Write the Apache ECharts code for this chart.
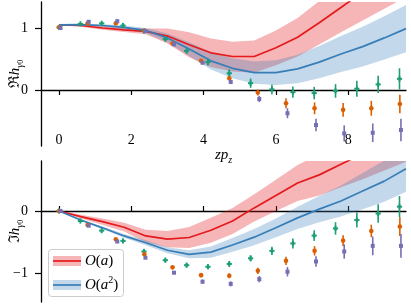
<!DOCTYPE html>
<html>
<head>
<meta charset="utf-8">
<script src="https://cdn.jsdelivr.net/npm/echarts@6/dist/echarts.min.js"></script>
<style>html,body{margin:0;padding:0;background:#fff}#c{width:411px;height:308px}</style>
</head>
<body>
<div id="c"></div>
<script>
// ---- data ----
const xTicks = [0, 2, 4, 6, 8];
const reTicks = [0, 1];
const imTicks = [-1, 0];

const bandX = [0, 0.6, 1.2, 1.8, 2.4, 3.0, 3.6, 4.2, 4.8, 5.4, 6.0, 6.6, 7.2, 7.8, 8.4, 9.0, 9.6];

// Re part : O(a) (red) and O(a^2) (blue) fits with bands
const redRe   = [1.05, 1.04, 1.0, 0.97, 0.945, 0.87, 0.73, 0.60, 0.54, 0.54, 0.68, 0.85, 1.085, 1.33, 1.58, 1.83, 2.08];
const redReLo = [1.05, 1.02, 0.97, 0.935, 0.90, 0.75, 0.53, 0.37, 0.30, 0.28, 0.40, 0.54, 0.735, 0.93, 1.12, 1.31, 1.50];
const redReHi = [1.05, 1.06, 1.03, 1.005, 0.99, 0.99, 0.93, 0.83, 0.78, 0.80, 0.96, 1.16, 1.435, 1.73, 2.04, 2.35, 2.66];
const blueRe   = [1.05, 1.055, 1.04, 1.01, 0.96, 0.84, 0.66, 0.47, 0.35, 0.28, 0.28, 0.34, 0.45, 0.58, 0.70, 0.84, 0.99];
const blueReLo = [1.05, 1.045, 1.02, 0.98, 0.92, 0.77, 0.55, 0.33, 0.19, 0.10, 0.08, 0.11, 0.19, 0.29, 0.38, 0.49, 0.61];
const blueReHi = [1.05, 1.065, 1.06, 1.04, 1.00, 0.91, 0.77, 0.61, 0.51, 0.46, 0.48, 0.57, 0.71, 0.87, 1.02, 1.19, 1.37];

// Im part
const redIm   = [0, -0.09, -0.17, -0.26, -0.40, -0.45, -0.425, -0.31, -0.16, 0.05, 0.25, 0.45, 0.58, 0.75, 0.92, 1.10, 1.28];
const redImLo = [0, -0.12, -0.22, -0.33, -0.50, -0.58, -0.595, -0.51, -0.37, -0.17, 0.0, 0.16, 0.25, 0.38, 0.51, 0.65, 0.79];
const redImHi = [0, -0.06, -0.12, -0.19, -0.30, -0.32, -0.255, -0.11, 0.05, 0.27, 0.50, 0.74, 0.91, 1.12, 1.33, 1.55, 1.77];
const blueIm   = [0, -0.145, -0.27, -0.40, -0.51, -0.63, -0.695, -0.66, -0.545, -0.42, -0.27, -0.11, 0.03, 0.16, 0.32, 0.48, 0.68];
const blueImLo = [0, -0.155, -0.29, -0.43, -0.55, -0.68, -0.76, -0.75, -0.655, -0.55, -0.42, -0.29, -0.18, -0.09, 0.03, 0.15, 0.31];
const blueImHi = [0, -0.135, -0.25, -0.37, -0.47, -0.58, -0.63, -0.57, -0.435, -0.29, -0.12, 0.07, 0.24, 0.41, 0.61, 0.81, 1.05];

// lattice data points
const greenX  = [0, 0.59, 1.18, 1.77, 2.35, 2.94, 3.53, 4.12, 4.71, 5.30, 5.89, 6.47, 7.06, 7.65, 8.24, 8.83, 9.42];
const orangeX = [0, 0.79, 1.57, 2.36, 3.14, 3.93, 4.71, 5.50, 6.28, 7.07, 7.86, 8.64, 9.43];
const purpleX = [0.04, 0.82, 1.61, 2.39, 3.18, 3.97, 4.75, 5.54, 6.32, 7.11, 7.89, 8.68, 9.46];

const greenRe     = [1.01, 1.065, 1.075, 1.04, 0.95, 0.82, 0.63, 0.45, 0.27, 0.11, 0.01, -0.035, -0.05, -0.015, 0.02, 0.09, 0.18];
const greenReErr  = [0.005, 0.01, 0.01, 0.015, 0.02, 0.025, 0.04, 0.055, 0.065, 0.075, 0.08, 0.09, 0.10, 0.11, 0.13, 0.14, 0.17];
const orangeRe    = [1.01, 1.075, 1.075, 0.955, 0.75, 0.47, 0.19, -0.04, -0.215, -0.295, -0.32, -0.295, -0.225];
const orangeReErr = [0.005, 0.01, 0.012, 0.015, 0.02, 0.025, 0.035, 0.05, 0.08, 0.095, 0.11, 0.12, 0.15];
const purpleRe    = [1.0, 1.10, 1.11, 0.95, 0.735, 0.44, 0.13, -0.145, -0.375, -0.565, -0.70, -0.69, -0.645];
const purpleReErr = [0.005, 0.01, 0.012, 0.015, 0.02, 0.025, 0.035, 0.05, 0.08, 0.10, 0.13, 0.15, 0.18];

const greenIm     = [0, -0.16, -0.315, -0.48, -0.65, -0.79, -0.87, -0.895, -0.85, -0.76, -0.64, -0.52, -0.395, -0.28, -0.145, -0.04, 0.07];
const greenImErr  = [0.005, 0.01, 0.012, 0.015, 0.02, 0.025, 0.03, 0.035, 0.045, 0.05, 0.065, 0.08, 0.085, 0.10, 0.12, 0.15, 0.17];
const orangeIm    = [0, -0.225, -0.455, -0.695, -0.905, -1.03, -1.04, -0.96, -0.80, -0.64, -0.475, -0.32, -0.25];
const orangeImErr = [0.005, 0.01, 0.015, 0.02, 0.025, 0.035, 0.04, 0.05, 0.065, 0.075, 0.085, 0.10, 0.15];
const purpleIm    = [0, -0.235, -0.49, -0.75, -0.99, -1.135, -1.17, -1.095, -0.975, -0.81, -0.65, -0.56, -0.56];
const purpleImErr = [0.005, 0.01, 0.015, 0.02, 0.025, 0.035, 0.04, 0.05, 0.075, 0.085, 0.115, 0.15, 0.19];

// ---- styling ----
const SERIF = "'Liberation Serif', 'DejaVu Serif', serif";
const RED = '#e41a1c', BLUE = '#377eb8';
const RED_BAND = 'rgba(228,26,28,0.32)', BLUE_BAND = 'rgba(55,126,184,0.30)';
const GREEN = '#1b9e77', ORANGE = '#d95f02', PURPLE = '#7570b3';

const chart = echarts.init(document.getElementById('c'), null, {renderer: 'canvas'});

function fmt(v) { return v < 0 ? '\u2212' + (-v) : String(v); }

function band(xi, yi, lo, hi, color, z) {
  return {
    type: 'custom', xAxisIndex: xi, yAxisIndex: yi, clip: true, silent: true, z: z,
    data: bandX.map((x, i) => [x, lo[i], hi[i]]),
    encode: {x: 0, y: [1, 2]},
    renderItem: function (params, api) {
      if (params.dataIndex !== 0) return null;
      const pts = [];
      for (let i = 0; i < bandX.length; i++) pts.push(api.coord([bandX[i], hi[i]]));
      for (let i = bandX.length - 1; i >= 0; i--) pts.push(api.coord([bandX[i], lo[i]]));
      return {type: 'polygon', shape: {points: pts}, style: {fill: color}};
    }
  };
}
function line(xi, yi, ys, color, z) {
  return {
    type: 'line', xAxisIndex: xi, yAxisIndex: yi, clip: true, silent: true, z: z,
    showSymbol: false, symbol: 'none',
    data: bandX.map((x, i) => [x, ys[i]]),
    lineStyle: {color: color, width: 1.7}
  };
}
function points(xi, yi, xs, ys, es, color, shape, z) {
  return {
    type: 'custom', xAxisIndex: xi, yAxisIndex: yi, clip: true, silent: true, z: z,
    data: xs.map((x, i) => [x, ys[i], es[i]]),
    encode: {x: 0, y: 1},
    renderItem: function (params, api) {
      const x = api.value(0), y = api.value(1), e = api.value(2);
      const c = api.coord([x, y]);
      const a = api.coord([x, y - e]);
      const b = api.coord([x, y + e]);
      const kids = [{
        type: 'line', shape: {x1: c[0], y1: a[1], x2: c[0], y2: b[1]},
        style: {stroke: color, lineWidth: 1.6}
      }];
      if (shape === 'plus') {
        kids.push({type: 'rect', shape: {x: c[0] - 2.6, y: c[1] - 1, width: 5.2, height: 2}, style: {fill: color}});
        kids.push({type: 'rect', shape: {x: c[0] - 1, y: c[1] - 2.6, width: 2, height: 5.2}, style: {fill: color}});
      } else if (shape === 'circle') {
        kids.push({type: 'circle', shape: {cx: c[0], cy: c[1], r: 2.3}, style: {fill: color}});
      } else {
        kids.push({type: 'rect', shape: {x: c[0] - 2, y: c[1] - 2, width: 4, height: 4}, style: {fill: color}});
      }
      return {type: 'group', children: kids};
    }
  };
}

const nameRich = {
  m: {fontFamily: SERIF, fontSize: 15, color: '#000', lineHeight: 20, verticalAlign: 'middle'},
  i: {fontFamily: SERIF, fontSize: 15, fontStyle: 'italic', color: '#000', lineHeight: 20, verticalAlign: 'middle'},
  s: {fontFamily: SERIF, fontSize: 10, fontStyle: 'italic', color: '#000', lineHeight: 20, verticalAlign: 'bottom'},
  t: {fontFamily: SERIF, fontSize: 8, color: '#000', lineHeight: 19, verticalAlign: 'bottom'}
};

const axLine = {show: true, lineStyle: {color: '#000', width: 1.3}};
const tickStyle = {color: '#000', width: 1.2};

const option = {
  animation: false,
  backgroundColor: '#fff',
  grid: [
    {left: 41, right: 5, top: 2, height: 144, containLabel: false, outerBoundsMode: 'none'},
    {left: 41, right: 5, top: 161, height: 141, containLabel: false, outerBoundsMode: 'none'}
  ],
  xAxis: [
    { // top panel zero line with ticks
      type: 'value', gridIndex: 0, min: -0.5, max: 9.6, position: 'bottom',
      axisLine: Object.assign({onZero: true}, axLine),
      axisTick: {show: true, length: 5, customValues: xTicks, lineStyle: tickStyle},
      axisLabel: {show: false}, splitLine: {show: false}
    },
    { // top panel tick labels + axis name
      type: 'value', gridIndex: 0, min: -0.5, max: 9.6, position: 'bottom', offset: -13,
      axisLine: {show: false, onZero: false}, axisTick: {show: false},
      axisLabel: {show: true, margin: 0, customValues: xTicks, formatter: fmt,
        fontFamily: SERIF, fontSize: 14, color: '#000'},
      splitLine: {show: false},
      name: '{i|zp}{s|z}', nameLocation: 'middle', nameGap: 12, nameMoveOverlap: false,
      nameTextStyle: {rich: nameRich}
    },
    { // bottom panel zero line, ticks pointing up
      type: 'value', gridIndex: 1, min: -0.5, max: 9.6, position: 'top',
      axisLine: Object.assign({onZero: true}, axLine),
      axisTick: {show: true, length: 5, customValues: xTicks, lineStyle: tickStyle},
      axisLabel: {show: false}, splitLine: {show: false}
    }
  ],
  yAxis: [
    {
      type: 'value', gridIndex: 0, min: -0.903, max: 1.419,
      axisLine: Object.assign({onZero: false}, axLine),
      axisTick: {show: true, length: 6, customValues: reTicks, lineStyle: tickStyle},
      axisLabel: {show: true, margin: 13, customValues: reTicks, formatter: fmt,
        fontFamily: SERIF, fontSize: 14, color: '#000'},
      splitLine: {show: false},
      name: '{m|\u211C}{i|h}{s|\u03B3}{t|0}', nameLocation: 'middle', nameGap: 16, nameRotate: 90,
      nameMoveOverlap: false,
      nameTextStyle: {rich: nameRich}
    },
    {
      type: 'value', gridIndex: 1, min: -1.461, max: 0.803,
      axisLine: Object.assign({onZero: false}, axLine),
      axisTick: {show: true, length: 6, customValues: imTicks, lineStyle: tickStyle},
      axisLabel: {show: true, margin: 13, customValues: imTicks, formatter: fmt,
        fontFamily: SERIF, fontSize: 14, color: '#000'},
      splitLine: {show: false},
      name: '{m|\u2111}{i|h}{s|\u03B3}{t|0}', nameLocation: 'middle', nameGap: 16, nameRotate: 90,
      nameMoveOverlap: false,
      nameTextStyle: {rich: nameRich}
    }
  ],
  series: [
    band(0, 0, redReLo, redReHi, RED_BAND, 1),
    band(0, 0, blueReLo, blueReHi, BLUE_BAND, 2),
    line(0, 0, redRe, RED, 3),
    line(0, 0, blueRe, BLUE, 4),
    points(0, 0, greenX, greenRe, greenReErr, GREEN, 'plus', 5),
    points(0, 0, orangeX, orangeRe, orangeReErr, ORANGE, 'circle', 6),
    points(0, 0, purpleX, purpleRe, purpleReErr, PURPLE, 'square', 7),

    band(2, 1, redImLo, redImHi, RED_BAND, 1),
    band(2, 1, blueImLo, blueImHi, BLUE_BAND, 2),
    line(2, 1, redIm, RED, 3),
    line(2, 1, blueIm, BLUE, 4),
    points(2, 1, greenX, greenIm, greenImErr, GREEN, 'plus', 5),
    points(2, 1, orangeX, orangeIm, orangeImErr, ORANGE, 'circle', 6),
    points(2, 1, purpleX, purpleIm, purpleImErr, PURPLE, 'square', 7)
  ],
  graphic: [
    {type: 'rect', z: 100, shape: {x: 48.5, y: 249.5, width: 75, height: 47, r: 3},
      style: {fill: 'rgba(255,255,255,0.8)', stroke: '#cccccc', lineWidth: 1}},
    {type: 'rect', z: 101, shape: {x: 53, y: 256, width: 28, height: 10}, style: {fill: RED_BAND}},
    {type: 'line', z: 102, shape: {x1: 53, y1: 261, x2: 81, y2: 261}, style: {stroke: RED, lineWidth: 1.7}},
    {type: 'rect', z: 101, shape: {x: 53, y: 280, width: 28, height: 10}, style: {fill: BLUE_BAND}},
    {type: 'line', z: 102, shape: {x1: 53, y1: 285, x2: 81, y2: 285}, style: {stroke: BLUE, lineWidth: 1.7}},
    {type: 'text', z: 102, x: 85, y: 261,
      style: {text: '{i|O}{m|(}{i|a}{m|)}', verticalAlign: 'middle', rich: nameRich}},
    {type: 'text', z: 102, x: 85, y: 285,
      style: {text: '{i|O}{m|(}{i|a}{p|2}{m|)}', verticalAlign: 'middle',
        rich: Object.assign({p: {fontFamily: SERIF, fontSize: 10, color: '#000', lineHeight: 20, verticalAlign: 'top'}}, nameRich)}}
  ]
};
chart.setOption(option);
</script>
</body>
</html>
